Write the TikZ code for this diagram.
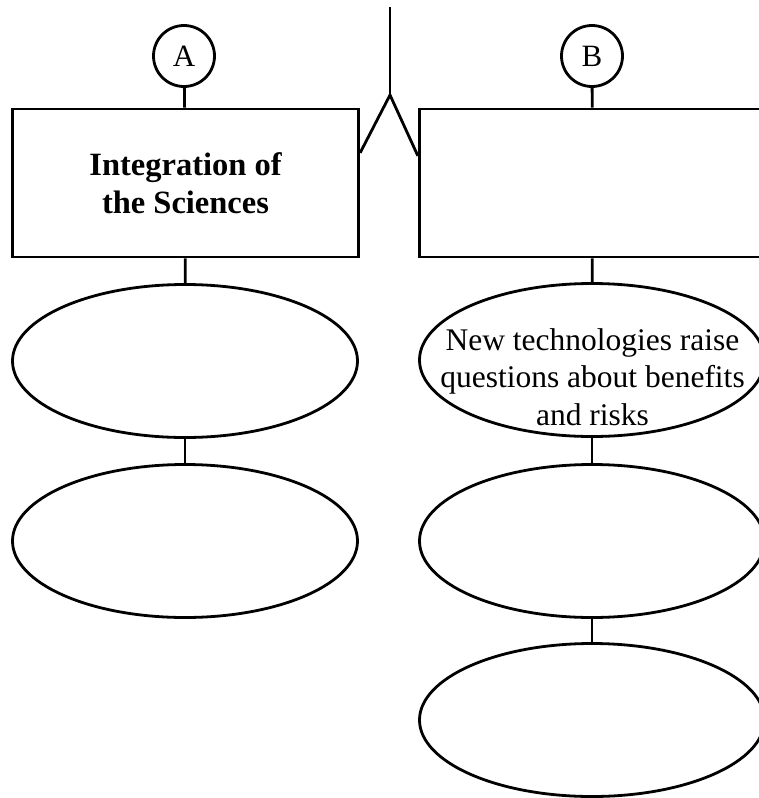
\documentclass[tikz,border=0pt]{standalone}
\usepackage{fontspec}
\setmainfont{Liberation Serif}
\usetikzlibrary{shapes.geometric,calc}

\begin{document}
\begin{tikzpicture}[x=1pt,y=-1pt,line width=2.8pt,
    letter/.style={draw,circle,minimum size=61pt,inner sep=0pt,font=\fontsize{31}{36}\selectfont},
    topic/.style={draw,rectangle,minimum width=346.5pt,minimum height=148pt,inner sep=0pt,align=center,font=\fontsize{32.5}{38}\selectfont\bfseries},
    oval/.style={draw,ellipse,minimum width=345pt,minimum height=153pt,inner sep=0pt},
    ovaltext/.style={align=center,font=\fontsize{31.5}{37.5}\selectfont}]
    \clip (0,0) rectangle (759,798);

    \coordinate (top) at (390,7);
    \coordinate (fork) at (390,95);

    % column A
    \node[letter] (circA) at (184,56) {A};
    \node[topic] (boxA) at (185.5,183) {Integration of\\the Sciences};
    \node[oval] (ovA1) at (185,361) {};
    \node[oval] (ovA2) at (185,541) {};

    % column B
    \node[letter] (circB) at (592,56) {B};
    \node[topic] (boxB) at (592.5,183) {};
    \node[oval] (ovB1) at (592,360) {};
    \node[oval] (ovB2) at (592,541) {};
    \node[oval] (ovB3) at (592,720) {};
    \node[ovaltext] (txtB1) at (592.5,377) {New technologies raise\\questions about benefits\\and risks};

    \draw (top) -- (fork);
    \draw ($(boxA.north east)!0.3!(boxA.south east)$) -- (fork) -- ($(boxB.north west)!0.32!(boxB.south west)$);

    \draw (circA) -- (boxA);
    \draw (boxA) -- (ovA1);
    \draw (ovA1) -- (ovA2);

    \draw (circB) -- (boxB);
    \draw (boxB) -- (ovB1);
    \draw (ovB1) -- (ovB2);
    \draw (ovB2) -- (ovB3);
\end{tikzpicture}
\end{document}
